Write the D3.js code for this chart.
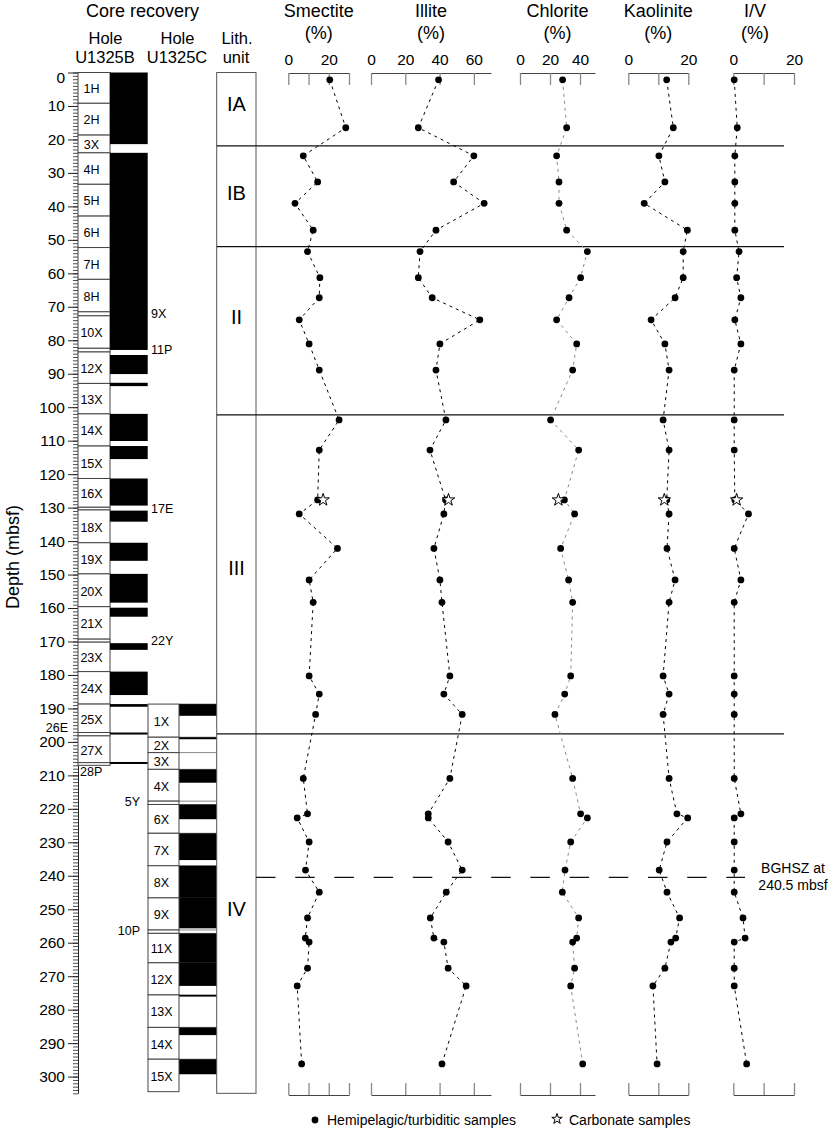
<!DOCTYPE html>
<html>
<head>
<meta charset="utf-8">
<script src="https://cdn.jsdelivr.net/npm/d3@7"></script>
<style>
  body { margin: 0; background: #fff; }
  svg { font-family: "Liberation Sans", Arial, Helvetica, sans-serif; }
</style>
</head>
<body>
<div class="chart"></div>
<script>
// hemipelagic / turbiditic samples, depth in mbsf
let depths = [2.2, 16.5, 24.9, 32.7, 39.1, 47.1, 53.5, 61.3, 67.3, 73.9, 81.1, 88.9, 103.8, 112.8, 127.7, 131.9, 142.2,
  151.6, 158.3, 180.3, 185.7, 191.8, 210.9, 221.5, 222.7, 229.9, 238.3, 244.9, 252.6, 258.6, 259.8, 267.6, 272.9, 296.2];
let smectite = [20.5, 28.4, 7.4, 14.5, 3.3, 12.3, 9.5, 15.6, 15.3, 5.4, 10.3, 15.3, 25.1, 15.3, 14.5, 5.4, 24.3,
  10.3, 12.3, 10.3, 15.3, 13.5, 7.4, 9.5, 4.4, 10.3, 8.5, 15.3, 9.5, 8.4, 10.3, 9.5, 4.4, 6.6];
let illite = [39.4, 27.6, 60, 48.2, 66, 37.9, 28.6, 27.6, 35.7, 63.5, 40.2, 37.9, 43.7, 34.4, 43.5, 42.5, 36.7,
  40.2, 41.4, 46, 42.5, 53.2, 46, 33.4, 33.4, 45, 53.2, 43.9, 34.6, 36.7, 42.5, 45, 55.5, 41.4];
let chlorite = [28.4, 31.1, 24.4, 26, 26, 31.1, 44.9, 40.4, 32.7, 24.4, 37.8, 35.1, 20.4, 39.1, 29.6, 36.4, 27.1,
  32.4, 35.1, 33.8, 29.8, 23.3, 35.1, 40.4, 44.9, 33.8, 30, 28.2, 39.1, 37.8, 35.1, 36.4, 33.8, 41.8];
let kaolinite = [12.8, 15, 10.2, 12.2, 5.3, 19.7, 18.3, 18.3, 15.6, 7.6, 12.2, 13.6, 11.6, 13.6, 12.8, 13.6, 12.9,
  15.6, 13.6, 11.6, 13.6, 11.6, 13.6, 16.2, 19.8, 12.9, 10.3, 12.9, 17.1, 15.8, 14.2, 12.2, 8.2, 9.6];
let iv = [0.3, 1.3, 0.5, 0.5, 0.5, 0.5, 1.9, 1.1, 2.5, 0.5, 2.5, 0.3, 0.3, 0.3, 0.5, 5, 0.3,
  2.5, 0.3, 0.3, 0.3, 0.3, 0.3, 2.5, 0.3, 0.3, 0.3, 0.3, 3.2, 3.9, 0.3, 0.3, 0.3, 4.4];

// carbonate sample
let carbDepth = 127.7;
let carbonate = [17.2, 45.2, 25.6, 12.0, 1.1];

let minerals = ["Smectite", "Illite", "Chlorite", "Kaolinite", "I/V"];
let mineralMax = [30, 70, 50, 20, 20];
let mineralTicks = [[0, 10, 20, 30], [0, 20, 40, 60], [0, 20, 40], [0, 10, 20], [0, 10, 20]];
let mineralTickLabels = [[0, 20], [0, 20, 40, 60], [0, 20, 40], [0, 20], [0, 20]];

// cored intervals [name, top, bottom] and recovered intervals [top, bottom]
let coresB = [["1H", 0, 9.2], ["2H", 9.2, 18.7], ["3X", 18.7, 24.0], ["4H", 24.0, 33.4], ["5H", 33.4, 42.9],
  ["6H", 42.9, 52.3], ["7H", 52.3, 61.8], ["8H", 61.8, 71.5], ["9X", 71.5, 72.7], ["10X", 72.7, 82.4],
  ["11P", 82.4, 83.5], ["12X", 83.5, 92.9], ["13X", 92.9, 102.0], ["14X", 102.0, 111.6], ["15X", 111.6, 121.3],
  ["16X", 121.3, 129.9], ["17E", 129.9, 130.7], ["18X", 130.7, 140.5], ["19X", 140.5, 149.8], ["20X", 149.8, 159.6],
  ["21X", 159.6, 169.3], ["22Y", 169.3, 170.2], ["23X", 170.2, 179.0], ["24X", 179.0, 188.7], ["25X", 188.7, 197.2],
  ["26E", 197.2, 198.2], ["27X", 198.2, 206.2], ["28P", 206.2, 207.0]];
let recoveryB = [[0, 21.4], [24, 82.9], [84.4, 90.1], [92.7, 93.7], [102, 110.1], [111.6, 115.5], [121.3, 129.4],
  [130.9, 134.2], [140.5, 145.9], [149.8, 158.4], [159.9, 162.6], [170.5, 172.5], [179, 186], [188.7, 189.5],
  [197.2, 197.8], [206.0, 206.6]];
let coresC = [["1X", 188.7, 198.6], ["2X", 198.6, 203.2], ["3X", 203.2, 208.2], ["4X", 208.2, 217.7],
  ["5Y", 217.7, 218.7], ["6X", 218.7, 227.3], ["7X", 227.3, 237.0], ["8X", 237.0, 246.6], ["9X", 246.6, 256.2],
  ["10P", 256.2, 257.2], ["11X", 257.2, 266.0], ["12X", 266.0, 275.6], ["13X", 275.6, 285.3], ["14X", 285.3, 294.8],
  ["15X", 294.8, 304.5]];
let recoveryC = [[188.7, 192.2], [198.6, 199.2], [208.2, 212.2], [218.7, 223.1], [227.3, 235.3], [237, 246.6],
  [246.6, 255.7], [257.2, 266], [266, 272.9], [275.6, 276.1], [285.3, 287.6], [294.8, 299.3]];

// lithologic units
let units = ["IA", "IB", "II", "III", "IV"];
let unitLabelDepths = [9.5, 36, 73, 148, 250];
let unitBoundaries = [21.9, 52, 102.3, 197.6];
let bghsz = 240.5;

let mineralData = [smectite, illite, chlorite, kaolinite, iv];

// ---- layout ----
let width = 828, height = 1130;
let panelRange = [[288.3, 349], [371, 491], [520, 595], [628.3, 688.3], [733.3, 794]];
let lineColor = ["#000", "#000", "#888", "#000", "#000"];
let axisTopY = 73, axisBottomY = 1095;

let svg = d3.select(".chart").append("svg")
  .attr("width", width)
  .attr("height", height);

let y = d3.scaleLinear().domain([0, 300]).range([72.5, 1076.6]);
let yr = d3.scaleLinear().domain([0, 305]).range([y(0), y(305)]);

// depth ruler
let ruler = svg.append("g").attr("transform", "translate(78,0)");
ruler.call(d3.axisLeft(yr).tickValues(d3.range(0, 306, 1)).tickSize(5).tickSizeOuter(0).tickFormat(""));
ruler.selectAll("line").attr("stroke", "#222").attr("stroke-width", 0.8);
ruler.select(".domain").attr("stroke", "#222");

let major = svg.append("g").attr("transform", "translate(78,0)");
major.call(d3.axisLeft(yr).tickValues(d3.range(0, 301, 10)).tickSize(10).tickPadding(3));
major.select(".domain").remove();
major.selectAll("line").attr("stroke", "#222");
major.selectAll("text").attr("font-size", 15.5).attr("font-family", null).attr("fill", "#000");
major.selectAll(".tick").filter(d => d == 0).select("text").attr("dy", "0.62em");

svg.append("text")
  .attr("transform", "translate(19,557) rotate(-90)")
  .attr("text-anchor", "middle")
  .attr("font-size", 18)
  .text("Depth (mbsf)");

// core recovery header
svg.append("text").attr("x", 142.5).attr("y", 17).attr("text-anchor", "middle").attr("font-size", 18).text("Core recovery");
[["Hole", 105.5, 44], ["U1325B", 105, 63], ["Hole", 177.5, 44], ["U1325C", 177, 63], ["Lith.", 237, 44], ["unit", 236, 63]]
  .forEach(t => {
    svg.append("text").attr("x", t[1]).attr("y", t[2]).attr("text-anchor", "middle").attr("font-size", 16.5).text(t[0]);
  });

// Hole U1325B
let gB = svg.append("g");
gB.selectAll(".boxB").data(coresB).enter().append("rect")
  .attr("x", 78).attr("width", 32)
  .attr("y", d => y(d[1]))
  .attr("height", d => y(d[2]) - y(d[1]))
  .attr("fill", "#fff").attr("stroke", "#444").attr("stroke-width", 1);
gB.selectAll(".recB").data(recoveryB).enter().append("rect")
  .attr("x", 110).attr("width", 37.7)
  .attr("y", d => y(d[0]))
  .attr("height", d => Math.max(1.5, y(d[1]) - y(d[0])))
  .attr("fill", "#000");

// Hole U1325C
let gC = svg.append("g");
gC.selectAll(".lineC").data(coresC).enter().append("line")
  .attr("x1", 179).attr("x2", 216.7)
  .attr("y1", d => y(d[1])).attr("y2", d => y(d[1]))
  .attr("stroke", "#888");
gC.selectAll(".recC").data(recoveryC).enter().append("rect")
  .attr("x", 179).attr("width", 37.7)
  .attr("y", d => y(d[0]))
  .attr("height", d => Math.max(1.5, y(d[1]) - y(d[0])))
  .attr("fill", "#000");
gC.selectAll(".boxC").data(coresC).enter().append("rect")
  .attr("x", 148).attr("width", 31)
  .attr("y", d => y(d[1]))
  .attr("height", d => y(d[2]) - y(d[1]))
  .attr("fill", "#fff").attr("stroke", "#444").attr("stroke-width", 1);

// core labels, short cores get labelled outside
function coreLabel(g, d, cx, outside) {
  let mid = (d[1] + d[2]) / 2;
  let t = g.append("text").attr("font-size", 12.5).attr("dominant-baseline", "middle").text(d[0]);
  if (d[2] - d[1] >= 2) {
    t.attr("x", cx).attr("y", y(mid) + 2).attr("text-anchor", "middle");
  } else if (outside == "left") {
    t.attr("x", 68).attr("y", y(mid) - 5).attr("text-anchor", "end");
  } else if (outside == "below") {
    t.attr("x", 80).attr("y", y(d[1]) + 10);
  } else if (outside == "leftC") {
    t.attr("x", 140).attr("y", y(mid)).attr("text-anchor", "end");
  } else {
    t.attr("x", 151).attr("y", y(mid) + 1);
  }
}
coresB.forEach(d => coreLabel(gB, d, 91.5, d[0] == "26E" ? "left" : d[0] == "28P" ? "below" : "right"));
coresC.forEach(d => coreLabel(gC, d, 161.5, "leftC"));

// lithology column
svg.append("rect")
  .attr("x", 216.7).attr("y", yr(0))
  .attr("width", 39.3).attr("height", yr(305) - yr(0))
  .attr("fill", "none").attr("stroke", "#555");
svg.selectAll(".unitLabel").data(units).enter().append("text")
  .attr("x", 236.5)
  .attr("y", (d, i) => y(unitLabelDepths[i]))
  .attr("dy", "0.36em")
  .attr("text-anchor", "middle")
  .attr("font-size", 20)
  .text(d => d);

svg.selectAll(".boundary").data(unitBoundaries).enter().append("line")
  .attr("x1", 216.7).attr("x2", 784)
  .attr("y1", d => y(d)).attr("y2", d => y(d))
  .attr("stroke", "#111").attr("stroke-width", 1.2);

svg.append("line")
  .attr("x1", 256).attr("x2", 745)
  .attr("y1", y(bghsz)).attr("y2", y(bghsz))
  .attr("stroke", "#111").attr("stroke-width", 1.2)
  .attr("stroke-dasharray", "19.5,19.7");
svg.append("text").attr("x", 793).attr("y", y(bghsz) - 4).attr("text-anchor", "middle").attr("font-size", 14).text("BGHSZ at");
svg.append("text").attr("x", 793).attr("y", y(bghsz) + 13).attr("text-anchor", "middle").attr("font-size", 14).text("240.5 mbsf");

// mineral panels
minerals.forEach(function(name, i) {
  let x = d3.scaleLinear().domain([0, mineralMax[i]]).range(panelRange[i]);
  let cx = name == "I/V" ? 755 : (panelRange[i][0] + panelRange[i][1]) / 2;

  svg.append("text").attr("x", cx).attr("y", 17).attr("text-anchor", "middle").attr("font-size", 18).text(name);
  svg.append("text").attr("x", cx).attr("y", 38.5).attr("text-anchor", "middle").attr("font-size", 18).text("(%)");

  let top = svg.append("g")
    .attr("transform", "translate(0," + axisTopY + ")")
    .call(d3.axisTop(x).tickValues(mineralTicks[i]).tickSizeInner(-12).tickSizeOuter(0).tickPadding(8)
      .tickFormat(d => mineralTickLabels[i].includes(d) ? d : ""));
  let bottom = svg.append("g")
    .attr("transform", "translate(0," + axisBottomY + ")")
    .call(d3.axisBottom(x).tickValues(mineralTicks[i]).tickSizeInner(-12).tickSizeOuter(0).tickFormat(""));
  [top, bottom].forEach(g => {
    g.select(".domain").attr("stroke", "#444").attr("stroke-width", 1.2);
    g.selectAll("line").attr("stroke", "#888").attr("stroke-width", 1.3);
    g.selectAll("text").attr("font-size", 15.5).attr("font-family", null).attr("fill", "#000");
  });

  let vals = mineralData[i];
  let line = d3.line()
    .x((d, j) => x(vals[j]))
    .y(d => y(d));

  svg.append("path")
    .datum(depths)
    .attr("d", line)
    .attr("fill", "none")
    .attr("stroke", lineColor[i])
    .attr("stroke-width", 1)
    .attr("stroke-dasharray", "3,4");

  svg.selectAll(".dot" + i).data(depths).enter().append("circle")
    .attr("cx", (d, j) => x(vals[j]))
    .attr("cy", d => y(d))
    .attr("r", 3.4)
    .attr("fill", "#000");

  svg.append("path")
    .attr("d", d3.symbol(d3.symbolStar, 48)())
    .attr("transform", "translate(" + x(carbonate[i]) + "," + y(carbDepth) + ")")
    .attr("fill", "#fff")
    .attr("stroke", "#000")
    .attr("stroke-width", 1);
});

// legend
svg.append("circle").attr("cx", 315).attr("cy", 1120).attr("r", 3.4).attr("fill", "#000");
svg.append("text").attr("x", 327).attr("y", 1125).attr("font-size", 14).text("Hemipelagic/turbiditic samples");
svg.append("path")
  .attr("d", d3.symbol(d3.symbolStar, 34)())
  .attr("transform", "translate(557,1119)")
  .attr("fill", "#fff").attr("stroke", "#000").attr("stroke-width", 1);
svg.append("text").attr("x", 569).attr("y", 1125).attr("font-size", 14).text("Carbonate samples");
</script>
</body>
</html>
